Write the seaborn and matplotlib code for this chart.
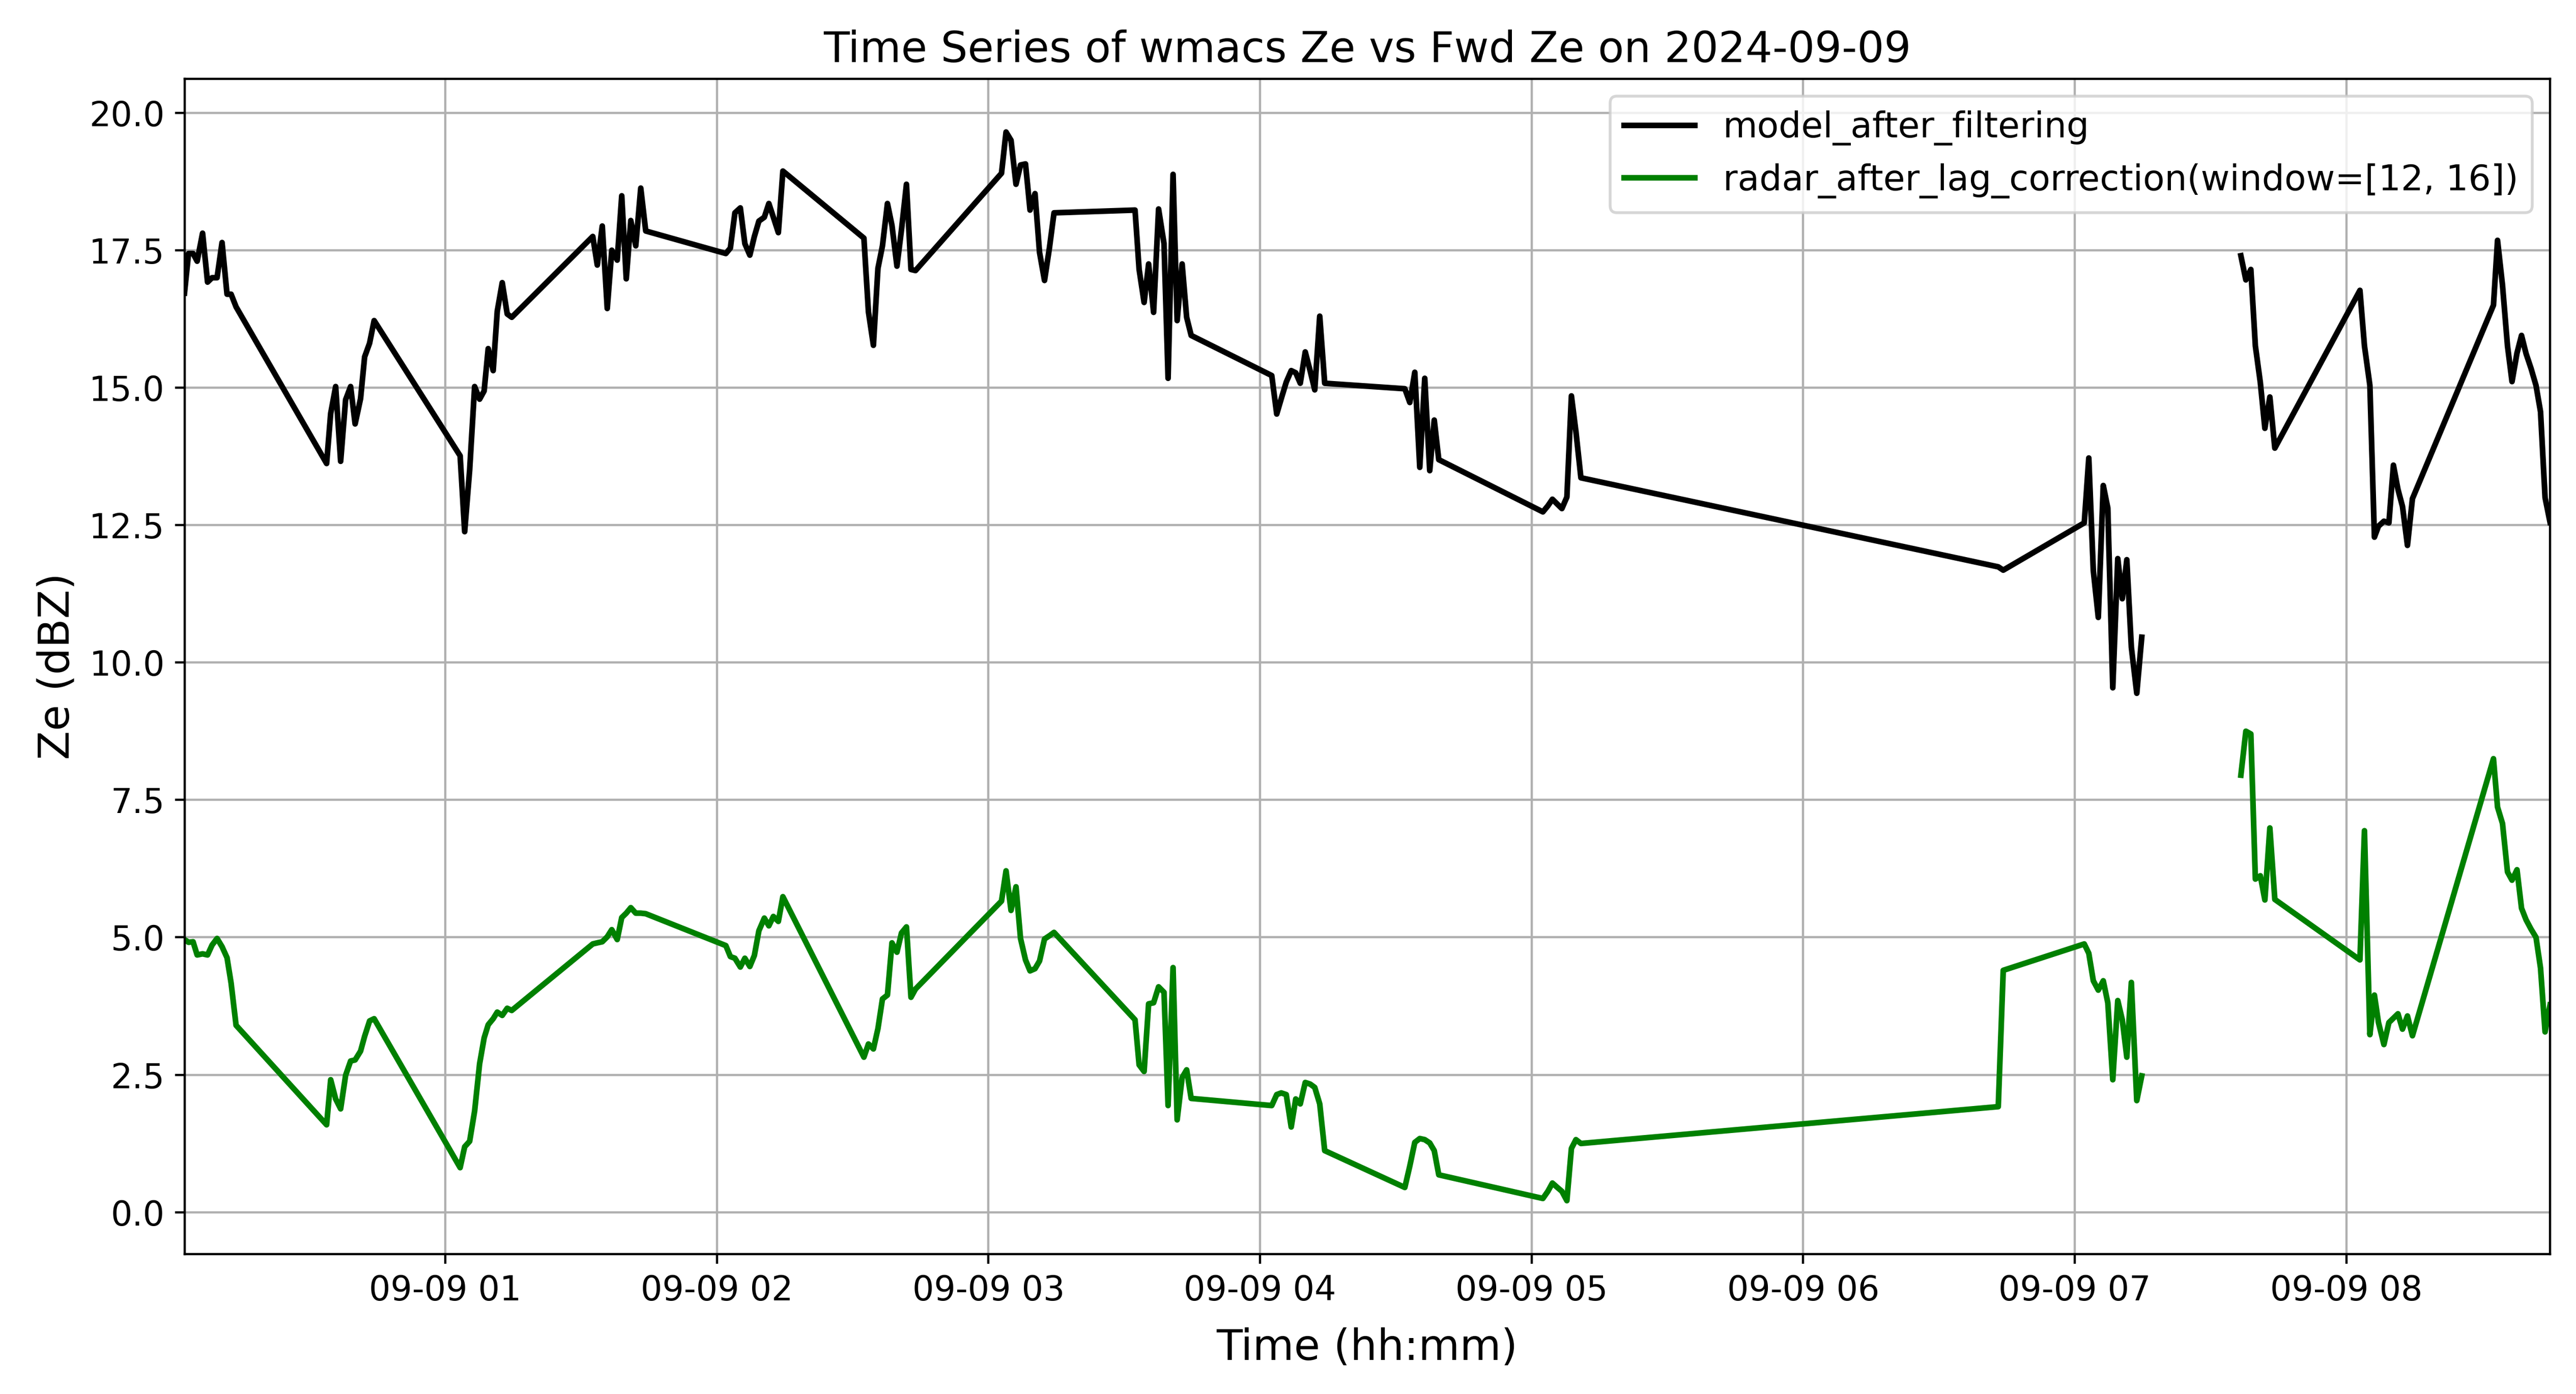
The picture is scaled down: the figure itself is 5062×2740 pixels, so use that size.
import numpy as np
import pandas as pd
import matplotlib
matplotlib.use("Agg")
import matplotlib.pyplot as plt
import matplotlib.dates as mdates
from matplotlib.lines import Line2D
import seaborn as sns

# minutes after 2024-09-09 00:00 (NaN row marks the data gap)
minutes = [
    2.4, 3.3, 4.3, 5.2, 6.4, 7.5, 8.5, 9.6, 10.7, 11.8, 12.7, 13.8,
    33.8, 34.7, 35.8, 36.9, 38.0, 39.1, 40.1, 41.3, 42.2, 43.3, 44.3,
    63.3, 64.3, 65.4, 66.5, 67.6, 68.6, 69.5, 70.6, 71.5, 72.6, 73.7, 74.7,
    92.6, 93.6, 94.7, 95.8, 96.8, 98.0, 99.0, 100.0, 101.0, 102.1, 103.2, 104.3,
    122.0, 123.0, 124.0, 125.2, 126.2, 127.3, 128.3, 129.3, 130.5, 131.5, 132.5, 133.6, 134.6,
    152.5, 153.5, 154.6, 155.6, 156.6, 157.7, 158.7, 159.8, 160.8, 161.9, 162.9, 163.9,
    182.9, 183.9, 185.0, 186.1, 187.1, 188.2, 189.2, 190.3, 191.3, 192.4, 193.5, 194.5,
    212.4, 213.3, 214.4, 215.4, 216.5, 217.6, 218.8, 219.7, 220.8, 221.7, 222.8, 223.8, 224.8,
    242.6, 243.7, 244.7, 245.8, 246.9, 247.9, 248.9, 250.0, 251.1, 252.1, 253.2, 254.3,
    272.0, 273.1, 274.2, 275.3, 276.4, 277.5, 278.5, 279.5,
    302.5, 303.6, 304.6, 305.7, 306.7, 307.8, 308.8, 309.8, 310.9,
    403.1, 404.2,
    422.1, 423.1, 424.1, 425.2, 426.3, 427.3, 428.4, 429.5, 430.5, 431.5, 432.5, 433.7, 434.8,
    445.0,
    456.7, 457.8, 458.9, 459.9, 461.0, 462.0, 463.1, 464.2,
    483.0, 484.0, 485.2, 486.2, 487.1, 488.3, 489.4, 490.4, 491.4, 492.4, 493.5, 494.6,
    512.5, 513.4, 514.5, 515.6, 516.6, 517.7, 518.7, 519.7, 520.8, 521.9, 522.9, 523.9, 525.0,
]

model_ze = [
    16.72, 17.44, 17.44, 17.30, 17.81, 16.92, 17.00, 17.00, 17.64, 16.70, 16.70, 16.47,
    13.62, 14.53, 15.02, 13.66, 14.78, 15.02, 14.34, 14.80, 15.56, 15.81, 16.22,
    13.76, 12.38, 13.50, 15.02, 14.79, 14.94, 15.71, 15.31, 16.39, 16.91, 16.34, 16.28,
    17.75, 17.23, 17.94, 16.44, 17.50, 17.32, 18.49, 16.98, 18.04, 17.58, 18.63, 17.85,
    17.44, 17.54, 18.18, 18.27, 17.62, 17.41, 17.75, 18.03, 18.10, 18.35, 18.10, 17.82, 18.94,
    17.72, 16.38, 15.77, 17.17, 17.58, 18.35, 17.95, 17.21, 17.87, 18.70, 17.15, 17.13,
    18.90, 19.65, 19.50, 18.70, 19.05, 19.07, 18.23, 18.53, 17.46, 16.95, 17.55, 18.18,
    18.23, 17.15, 16.55, 17.25, 16.37, 18.25, 17.62, 15.17, 18.88, 16.22, 17.25, 16.28, 15.95,
    15.22, 14.52, 14.80, 15.10, 15.31, 15.27, 15.08, 15.65, 15.30, 14.96, 16.30, 15.08,
    14.98, 14.73, 15.28, 13.55, 15.17, 13.49, 14.41, 13.69,
    12.74, 12.85, 12.97, 12.88, 12.80, 13.01, 14.85, 14.20, 13.36,
    11.74, 11.68,
    12.54, 13.72, 11.67, 10.82, 13.22, 12.81, 9.54, 11.89, 11.16, 11.87, 10.28, 9.44, 10.46,
    np.nan,
    17.40, 16.96, 17.15, 15.76, 15.09, 14.26, 14.83, 13.90,
    16.77, 15.76, 15.04, 12.28, 12.48, 12.57, 12.54, 13.59, 13.15, 12.84, 12.13, 12.98,
    16.50, 17.68, 16.86, 15.76, 15.11, 15.63, 15.95, 15.62, 15.35, 15.04, 14.56, 13.00, 12.55,
]

radar_ze = [
    4.96, 4.91, 4.92, 4.68, 4.70, 4.68, 4.86, 4.98, 4.83, 4.63, 4.17, 3.40,
    1.59, 2.41, 2.06, 1.88, 2.49, 2.75, 2.77, 2.93, 3.20, 3.48, 3.52,
    0.81, 1.19, 1.29, 1.84, 2.70, 3.17, 3.41, 3.52, 3.64, 3.58, 3.71, 3.67,
    4.88, 4.90, 4.92, 5.01, 5.14, 4.96, 5.36, 5.44, 5.54, 5.44, 5.44, 5.43,
    4.85, 4.65, 4.62, 4.46, 4.62, 4.47, 4.67, 5.12, 5.35, 5.21, 5.38, 5.29, 5.74,
    2.82, 3.06, 2.97, 3.34, 3.88, 3.95, 4.90, 4.73, 5.08, 5.19, 3.91, 4.06,
    5.66, 6.21, 5.49, 5.92, 4.98, 4.59, 4.39, 4.43, 4.57, 4.97, 5.03, 5.09,
    3.50, 2.68, 2.56, 3.79, 3.81, 4.10, 4.00, 1.94, 4.45, 1.68, 2.45, 2.59, 2.07,
    1.94, 2.14, 2.17, 2.14, 1.55, 2.06, 1.97, 2.36, 2.33, 2.27, 1.97, 1.12,
    0.45, 0.84, 1.27, 1.34, 1.32, 1.26, 1.12, 0.68,
    0.25, 0.38, 0.53, 0.45, 0.38, 0.21, 1.16, 1.32, 1.25,
    1.92, 4.40,
    4.88, 4.71, 4.21, 4.04, 4.21, 3.81, 2.41, 3.85, 3.50, 2.82, 4.18, 2.03, 2.48,
    np.nan,
    7.95, 8.75, 8.70, 6.06, 6.12, 5.68, 6.99, 5.69,
    4.59, 6.94, 3.23, 3.95, 3.45, 3.05, 3.45, 3.53, 3.61, 3.33, 3.57, 3.21,
    8.25, 7.37, 7.07, 6.19, 6.04, 6.23, 5.53, 5.32, 5.15, 5.00, 4.44, 3.28, 3.77,
]

series_labels = ["model_after_filtering", "radar_after_lag_correction(window=[12, 16])"]
series_colors = ["black", "green"]
title_text = "Time Series of wmacs Ze vs Fwd Ze on 2024-09-09"
x_label = "Time (hh:mm)"
y_label = "Ze (dBZ)"

base = pd.Timestamp("2024-09-09 00:00:00")
times = base + pd.to_timedelta(np.array(minutes), unit="min")
seg = np.cumsum(np.isnan(np.array(model_ze, dtype=float)))
wide = pd.DataFrame({
    "time": times,
    "seg": seg,
    series_labels[0]: model_ze,
    series_labels[1]: radar_ze,
})
df = wide.melt(id_vars=["time", "seg"], var_name="series", value_name="Ze").dropna()

W, H, DPI = 5062, 2740, 400
fig = plt.figure(figsize=(W / DPI, H / DPI), dpi=DPI)
ax = fig.add_axes([362.5 / W, 1 - 2465 / H, (5011 - 362.5) / W, (2465 - 154.5) / H])

sns.lineplot(
    data=df, x="time", y="Ze", hue="series", hue_order=series_labels,
    units="seg", estimator=None,
    palette=dict(zip(series_labels, series_colors)),
    linewidth=2, ax=ax, legend=False,
)

ax.set_xlim(times.min(), times.max())
ax.xaxis.set_major_locator(mdates.HourLocator())
ax.xaxis.set_major_formatter(mdates.DateFormatter("%m-%d %H"))
ax.grid(True)
ax.tick_params(labelsize=12)
ax.set_xlabel(x_label, fontsize=15, labelpad=7)
ax.set_ylabel(y_label, fontsize=15)
ax.set_title(title_text, fontsize=15)

handles = [Line2D([], [], color=c, linewidth=2) for c in series_colors]
ax.legend(handles, series_labels, loc="upper right", fontsize=12.5)

fig.savefig("out.png", dpi=DPI)
